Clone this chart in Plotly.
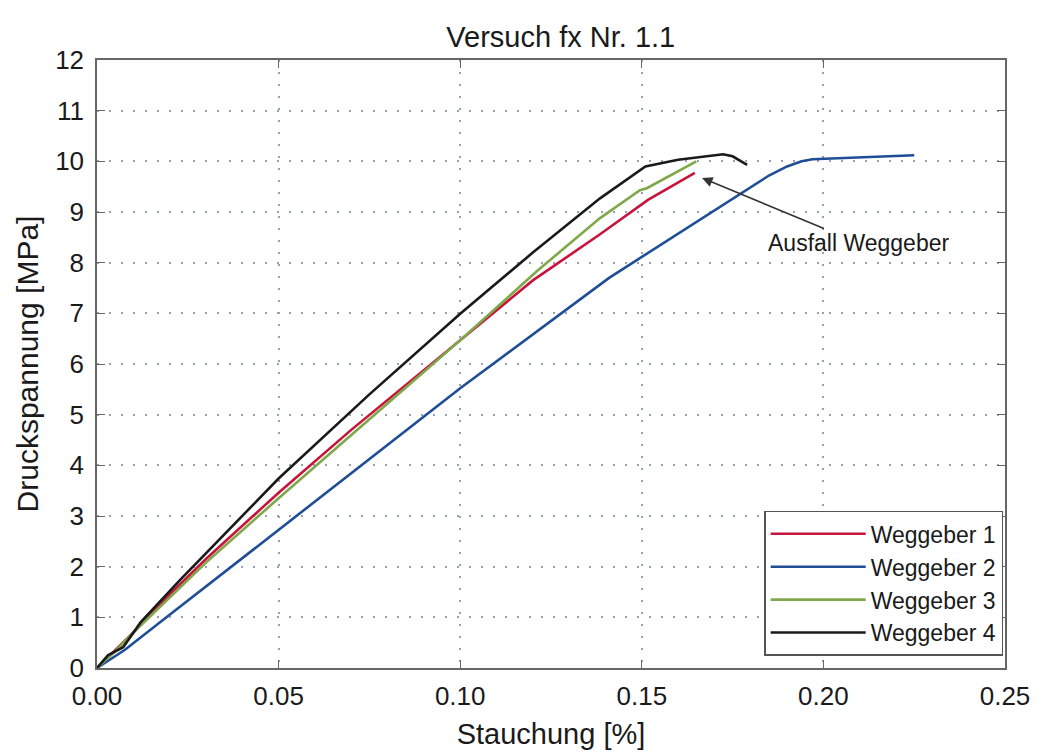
import plotly.graph_objects as go

# Weggeber 1 (red)
x1 = [0.0, 0.005, 0.01, 0.02, 0.03, 0.05, 0.07, 0.10, 0.12, 0.1385, 0.1517, 0.1646]
y1 = [0.0, 0.35, 0.70, 1.45, 2.15, 3.46, 4.70, 6.47, 7.65, 8.56, 9.24, 9.77]
# Weggeber 2 (blue)
x2 = [0.0, 0.0077, 0.02, 0.05, 0.10, 0.141, 0.1735, 0.185, 0.19, 0.194, 0.197, 0.21, 0.225]
y2 = [0.0, 0.36, 1.05, 2.72, 5.52, 7.70, 9.20, 9.72, 9.90, 10.00, 10.04, 10.08, 10.12]
# Weggeber 3 (green)
x3 = [0.0, 0.005, 0.01, 0.02, 0.03, 0.05, 0.07, 0.10, 0.1214, 0.1385, 0.1495, 0.1514, 0.165]
y3 = [0.0, 0.33, 0.70, 1.40, 2.08, 3.35, 4.60, 6.47, 7.85, 8.88, 9.43, 9.47, 10.00]
# Weggeber 4 (black)
x4 = [0.0, 0.003, 0.0072, 0.012, 0.0229, 0.05, 0.075, 0.10, 0.12, 0.1385, 0.151, 0.16, 0.1724, 0.175, 0.179]
y4 = [0.0, 0.25, 0.41, 0.90, 1.74, 3.74, 5.40, 6.99, 8.20, 9.27, 9.90, 10.03, 10.14, 10.10, 9.93]

names = ["Weggeber 1", "Weggeber 2", "Weggeber 3", "Weggeber 4"]
colors = ["#c8143c", "#1f4e96", "#7fa84a", "#1a1a1a"]

x_ticks = [0.0, 0.05, 0.10, 0.15, 0.20, 0.25]
x_labels = ["0.00", "0.05", "0.10", "0.15", "0.20", "0.25"]
y_ticks = list(range(0, 13))

font_family = "Liberation Sans, Arial, sans-serif"
txt = "#1a1a1a"

fig = go.Figure()
for xs, ys, n, c in zip([x1, x2, x3, x4], [y1, y2, y3, y4], names, colors):
    fig.add_trace(go.Scatter(x=xs, y=ys, mode="lines", name=n,
                             line=dict(color=c, width=2.6)))

fig.add_annotation(x=0.1666, y=9.67, ax=0.2098, ay=8.39, axref="x", ayref="y",
                   text="Ausfall Weggeber", showarrow=True, arrowhead=2,
                   arrowsize=1.3, arrowwidth=1.6, arrowcolor="#333333",
                   font=dict(size=23, color=txt, family=font_family),
                   xanchor="center", yanchor="middle")

axis_common = dict(showline=True, linecolor="#666666", linewidth=1.5, mirror="ticks",
                   ticks="inside", ticklen=8, tickcolor="#666666",
                   showgrid=True, gridcolor="#9aa0b4", griddash="2px,10px", gridwidth=1.5,
                   zeroline=False,
                   tickfont=dict(size=26, color=txt, family=font_family))

fig.update_layout(
    width=1041, height=752,
    margin=dict(l=89, r=44, t=52, b=92),
    paper_bgcolor="white", plot_bgcolor="white",
    title=dict(text="Versuch fx Nr. 1.1", x=0.531, xanchor="center", y=0.962, yanchor="middle",
               font=dict(size=29, color=txt, family=font_family)),
    xaxis=dict(range=[0, 0.25], tickvals=x_ticks, ticktext=x_labels,
               ticklabelstandoff=4,
               title=dict(text="Stauchung [%]", font=dict(size=29, color=txt, family=font_family), standoff=14),
               **axis_common),
    yaxis=dict(range=[0, 12], tickvals=y_ticks, ticklabelstandoff=6,
               title=dict(text="Druckspannung [MPa]", font=dict(size=30, color=txt, family=font_family), standoff=8),
               **axis_common),
    legend=dict(x=0.998, y=0.02, xanchor="right", yanchor="bottom",
                bgcolor="white", bordercolor="#555555", borderwidth=1.5,
                font=dict(size=23, color=txt, family=font_family),
                tracegroupgap=0, itemwidth=95),
    showlegend=True,
)

fig.write_html("out.html")
